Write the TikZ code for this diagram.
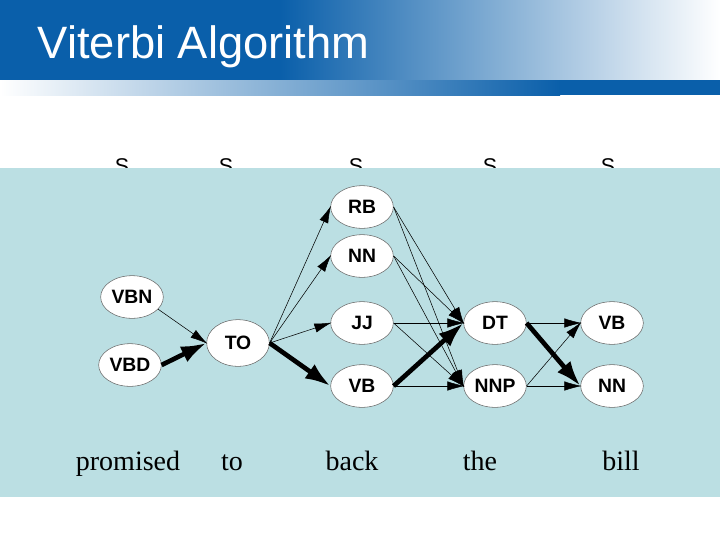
\documentclass[tikz,border=0pt]{standalone}
\usepackage{fontspec}
\setmainfont{Liberation Serif}
\newfontfamily\arial{Liberation Sans}
\usetikzlibrary{arrows.meta,shapes.geometric}
\definecolor{tdark}{RGB}{10,95,170}
\definecolor{panel}{RGB}{187,223,227}
\begin{document}
\begin{tikzpicture}[x=0.75pt,y=-0.75pt,
  st/.style={ellipse,draw=black!60,fill=white,minimum width=47pt,minimum height=32pt,inner sep=0pt,font=\arial\bfseries\fontsize{14.5}{14.5}\selectfont},
  thin/.style={-{Latex[length=13pt,width=7pt]},line width=0.4pt,shorten >=-1pt},
  thick/.style={-{Latex[length=19pt,width=13pt]},line width=3.5pt},
  word/.style={anchor=base,font=\fontsize{21}{21}\selectfont}]
\useasboundingbox (0,0) rectangle (720,540);
\fill[white] (0,0) rectangle (720,540);
\shade[left color=tdark,right color=tdark] (0,0) rectangle (280,80);
\shade[left color=tdark,right color=white] (280,0) rectangle (720,80);
\shade[left color=white,right color=tdark] (0,80) rectangle (560,95);
\fill[tdark] (559,80) rectangle (720,95);
\node[anchor=west,text=white,font=\arial\fontsize{34}{34}\selectfont] (title) at (33,47) {Viterbi Algorithm};
\foreach \n/\x in {s1/122,s2/226,s3/356,s4/490,s5/608}
  \node[anchor=north,inner sep=0pt,font=\arial\fontsize{16}{16}\selectfont] (\n) at (\x,158) {S};
\fill[panel] (0,168) rectangle (720,497);
\node[st] (vbn) at (132,297) {VBN};
\node[st] (vbd) at (130,365) {VBD};
\node[st,minimum height=35pt] (to) at (238,343) {TO};
\node[st] (rb) at (362,207) {RB};
\node[st] (nn) at (362,256) {NN};
\node[st] (jj) at (362,323) {JJ};
\node[st] (vb) at (362,386) {VB};
\node[st] (dt) at (495,323) {DT};
\node[st] (nnp) at (495,386) {NNP};
\node[st] (vbb) at (612,323) {VB};
\node[st] (nnb) at (612,386) {NN};
\draw[thin] (vbn.-25) -- (to.west);
\draw[thin] (to.east) -- (rb.west);
\draw[thin] (to.east) -- (nn.west);
\draw[thin] (to.east) -- (jj.west);
\draw[thin] (rb.east) -- (dt.west);
\draw[thin] (rb.east) -- (nnp.west);
\draw[thin] (nn.east) -- (dt.west);
\draw[thin] (nn.east) -- (nnp.west);
\draw[thin] (jj.east) -- (dt.west);
\draw[thin] (jj.east) -- (nnp.west);
\draw[thin] (vb.east) -- (nnp.west);
\draw[thin] (dt.east) -- (vbb.west);
\draw[thin] (nnp.east) -- (vbb.west);
\draw[thin] (nnp.east) -- (nnb.west);
\draw[thick] (vbd.east) -- (to.west);
\draw[thick] (to.east) -- (vb.west);
\draw[thick] (vb.east) -- (dt.west);
\draw[thick] (dt.east) -- (nnb.west);
\node[word] (w1) at (128,470) {promised};
\node[word] (w2) at (232,470) {to};
\node[word] (w3) at (352,470) {back};
\node[word] (w4) at (480,470) {the};
\node[word] (w5) at (621,470) {bill};
\end{tikzpicture}
\end{document}
